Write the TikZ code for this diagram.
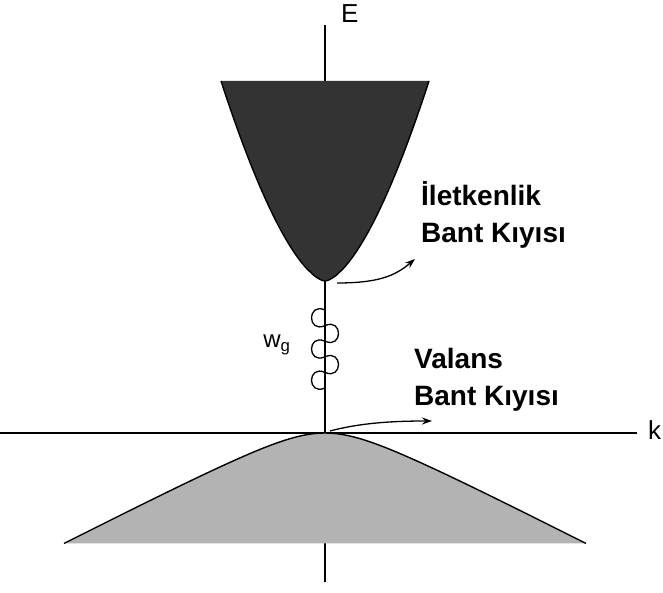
\documentclass[tikz,border=0pt]{standalone}
\usepackage{fontspec}
\setmainfont{Liberation Sans}
\usetikzlibrary{arrows.meta}
\definecolor{cband}{HTML}{333333}
\definecolor{vband}{HTML}{B3B3B3}

\begin{document}
\begin{tikzpicture}[
  x=1pt, y=1pt,
  >={Stealth[length=10pt,width=7pt]},
  axis/.style  ={draw=black, line width=1.6pt},
  bandedge/.style={draw=black, line width=1.4pt},
  lbl/.style   ={font=\fontsize{28}{37}\selectfont\bfseries, align=left,
                 anchor=west, inner sep=0pt},
  flow/.style  ={->, draw=black, line width=1.3pt},
  photon/.style={draw=black, line width=1.3pt},
]
  \useasboundingbox (0,0) rectangle (663,592);

  % --- eksenler ---
  \coordinate (etop)   at (325,567);
  \coordinate (ebot)   at (325,10);
  \coordinate (kleft)  at (0,159);
  \coordinate (kright) at (637,159);
  \draw[axis] (ebot) -- (etop);
  \draw[axis] (kleft) -- (kright);
  \node[font=\fontsize{26}{26}\selectfont, anchor=west, inner sep=0pt] (elbl) at (341,578) {E};
  \node[font=\fontsize{26}{26}\selectfont, anchor=west, inner sep=0pt] (klbl) at (648,162) {k};

  % --- valans bandı ---
  \fill[vband] plot[domain=-261:261, samples=91]
      ({325+\x}, {159-5.12*(sqrt((\x/10)^2+25)-5)}) -- cycle;
  \draw[bandedge] plot[domain=-261:261, samples=91]
      ({325+\x}, {159-5.12*(sqrt((\x/10)^2+25)-5)});

  % --- iletkenlik bandı ---
  \fill[cband] plot[domain=-104:104, samples=91]
      ({325+\x}, {311+200*pow(abs(\x)/104+0.0001,1.6)}) -- cycle;
  \draw[bandedge] plot[domain=-104:104, samples=91]
      ({325+\x}, {311+200*pow(abs(\x)/104+0.0001,1.6)});

  \coordinate (cbmin) at (325,311);
  \coordinate (vbmax) at (325,159);

  % --- foton geçişi (kıvrımlı) ---
  \coordinate (ptop) at (325,282);
  \draw[photon] (ptop)
      foreach \s in {-1,1,-1,1,-1} { .. controls +(\s*18,8) and +(\s*18,-8) .. ++(0,-15.6) };
  \node[font=\fontsize{24}{24}\selectfont, inner sep=0pt] (wg) at (277,247) {w\textsubscript{g}};

  % --- etiketler ---
  \node[lbl] (ilet) at (421,377) {İletkenlik\\Bant Kıyısı};
  \node[lbl] (val)  at (414,212) {Valans\\Bant Kıyısı};

  % --- oklar ---
  \coordinate (cbfrom) at (337,309);
  \coordinate (cbto)   at (415,333);
  \coordinate (vbfrom) at (330,161);
  \coordinate (vbto)   at (432,171);
  \draw[flow] (cbfrom) .. controls (378,309) and (395,316) .. (cbto);
  \draw[flow] (vbfrom) .. controls (360,169) and (392,171) .. (vbto);
\end{tikzpicture}
\end{document}
